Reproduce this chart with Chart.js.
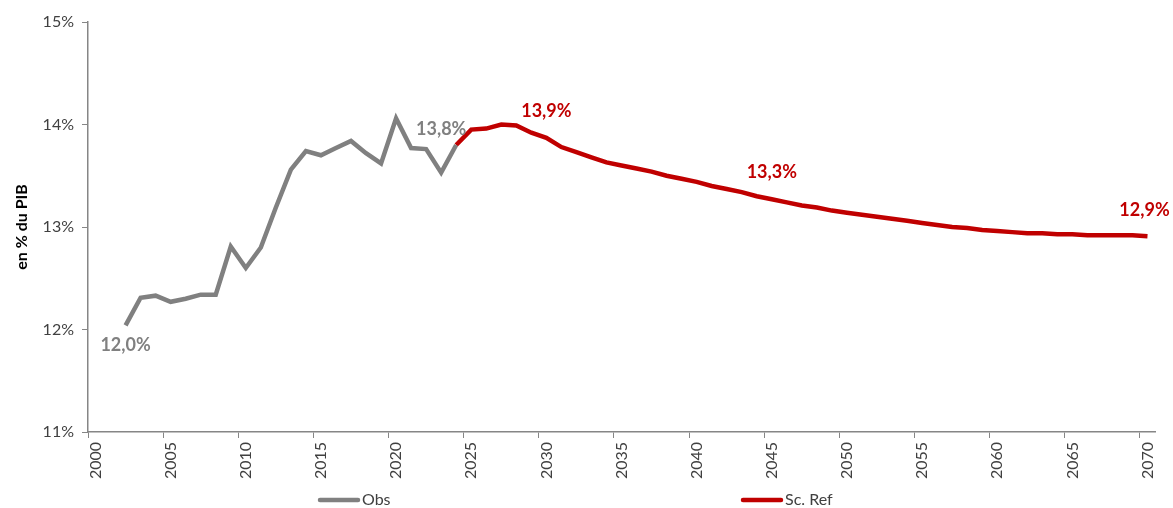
<!DOCTYPE html>
<html>
<head>
<meta charset="utf-8">
<script src="https://cdn.jsdelivr.net/npm/chart.js@4.4.1/dist/chart.umd.min.js"></script>
<style>
  html, body { margin: 0; padding: 0; background: #fff; }
  #wrap { width: 1173px; height: 508px; }
</style>
</head>
<body>
<div id="wrap"><canvas id="myCanvas"></canvas></div>
<script>
const years = ['2000','2001','2002','2003','2004','2005','2006','2007','2008','2009',
  '2010','2011','2012','2013','2014','2015','2016','2017','2018','2019',
  '2020','2021','2022','2023','2024','2025','2026','2027','2028','2029',
  '2030','2031','2032','2033','2034','2035','2036','2037','2038','2039',
  '2040','2041','2042','2043','2044','2045','2046','2047','2048','2049',
  '2050','2051','2052','2053','2054','2055','2056','2057','2058','2059',
  '2060','2061','2062','2063','2064','2065','2066','2067','2068','2069','2070'];

// Obs : 2002 -> 2024
const obsStart = '2002';
const obsValues = [12.04, 12.31, 12.33, 12.27, 12.30, 12.34, 12.34, 12.81, 12.60, 12.80,
  13.19, 13.56, 13.74, 13.70, 13.77, 13.84, 13.72, 13.62, 14.06, 13.77,
  13.76, 13.53, 13.80];

// Sc. Ref : 2024 -> 2070
const refStart = '2024';
const refValues = [13.80, 13.95, 13.96, 14.00, 13.99, 13.92, 13.87, 13.78, 13.73, 13.68,
  13.63, 13.60, 13.57, 13.54, 13.50, 13.47, 13.44, 13.40, 13.37, 13.34,
  13.30, 13.27, 13.24, 13.21, 13.19, 13.16, 13.14, 13.12, 13.10, 13.08,
  13.06, 13.04, 13.02, 13.00, 12.99, 12.97, 12.96, 12.95, 12.94, 12.94,
  12.93, 12.93, 12.92, 12.92, 12.92, 12.92, 12.91];

// value labels: dataset index, year, text
const valueLabels = [
  { ds: 0, year: '2002', text: '12,0%' },
  { ds: 0, year: '2024', text: '13,8%' },
  { ds: 1, year: '2030', text: '13,9%' },
  { ds: 1, year: '2045', text: '13,3%' },
  { ds: 1, year: '2070', text: '12,9%' }
];
// pixel offsets of those labels from their point (style only)
const labelOffsets = [[0, 20], [-15, -16], [0, -27], [0, -27], [-3, -26]];

function alignSeries(start, values) {
  const i0 = years.indexOf(start);
  return years.map((y, i) => (i >= i0 && i - i0 < values.length) ? values[i - i0] : null);
}

const grey = '#808080';
const red = '#C00000';
const axisGrey = '#868686';
const fontFam = 'Lato, "Open Sans", sans-serif';

const valueLabelPlugin = {
  id: 'valueLabels',
  afterDatasetsDraw(chart) {
    const c = chart.ctx;
    const xs = chart.scales.x, ys = chart.scales.y;
    c.save();
    c.textAlign = 'center';
    c.textBaseline = 'middle';
    valueLabels.forEach((l, k) => {
      const idx = years.indexOf(l.year);
      const v = chart.data.datasets[l.ds].data[idx];
      const x = xs.getPixelForValue(idx) + labelOffsets[k][0];
      const y = ys.getPixelForValue(v) + labelOffsets[k][1];
      c.font = 'bold 18px ' + fontFam;
      c.fillStyle = l.ds === 0 ? grey : red;
      c.fillText(l.text, x, y);
    });
    c.restore();
  }
};

// legend spread out like the original (Chart.js legend can't space items this wide)
const legendStarts = [318, 741];
const wideLegendPlugin = {
  id: 'wideLegend',
  afterDraw(chart) {
    const c = chart.ctx;
    const y = chart.height - 8;
    c.save();
    c.font = '16px ' + fontFam;
    c.textBaseline = 'middle';
    c.textAlign = 'left';
    chart.data.datasets.forEach((ds, i) => {
      const x0 = legendStarts[i];
      c.strokeStyle = ds.borderColor;
      c.lineWidth = 4.5;
      c.lineCap = 'round';
      c.beginPath();
      c.moveTo(x0 + 2, y);
      c.lineTo(x0 + 40, y);
      c.stroke();
      c.fillStyle = '#404040';
      c.fillText(ds.label, x0 + 44, y);
    });
    c.restore();
  }
};

const ctx = document.getElementById('myCanvas').getContext('2d');

const myChart = new Chart(ctx, {
  type: 'line',
  data: {
    labels: years,
    datasets: [{
      label: 'Obs',
      data: alignSeries(obsStart, obsValues),
      borderColor: grey,
      backgroundColor: grey,
      borderWidth: 4.5,
      pointRadius: 0,
      tension: 0,
      fill: false
    }, {
      label: 'Sc. Ref',
      data: alignSeries(refStart, refValues),
      borderColor: red,
      backgroundColor: red,
      borderWidth: 4.5,
      pointRadius: 0,
      tension: 0,
      fill: false
    }]
  },
  options: {
    responsive: true,
    maintainAspectRatio: false,
    animation: false,
    layout: { padding: { top: 22, right: 18, left: 0, bottom: 18 } },
    plugins: {
      tooltip: { enabled: false },
      legend: { display: false }
    },
    scales: {
      x: {
        type: 'category',
        offset: true,
        grid: {
          offset: true,
          drawOnChartArea: false,
          tickLength: 6,
          color: axisGrey,
          tickColor: c => (c.index % 5 === 0 && c.index <= 70) ? axisGrey : 'rgba(0,0,0,0)'
        },
        border: { color: axisGrey, width: 1.5 },
        ticks: {
          autoSkip: false,
          maxRotation: 90,
          minRotation: 90,
          padding: 4,
          color: '#404040',
          font: { family: fontFam, size: 16 },
          callback: (v, i) => (i % 5 === 0 ? years[i] : '')
        },
        afterFit: s => { s.height = 58; }
      },
      y: {
        min: 11,
        max: 15,
        grid: {
          drawOnChartArea: false,
          tickLength: 6,
          color: axisGrey
        },
        border: { color: axisGrey, width: 1.5 },
        ticks: {
          stepSize: 1,
          padding: 8,
          color: '#404040',
          font: { family: fontFam, size: 16 },
          callback: v => v + '%'
        },
        title: {
          display: true,
          text: 'en % du PIB',
          color: '#000',
          padding: { top: 12, bottom: 0 },
          font: { family: fontFam, size: 16, weight: 'bold' }
        },
        afterFit: s => { s.width = 88; }
      }
    }
  },
  plugins: [valueLabelPlugin, wideLegendPlugin]
});
</script>
</body>
</html>
